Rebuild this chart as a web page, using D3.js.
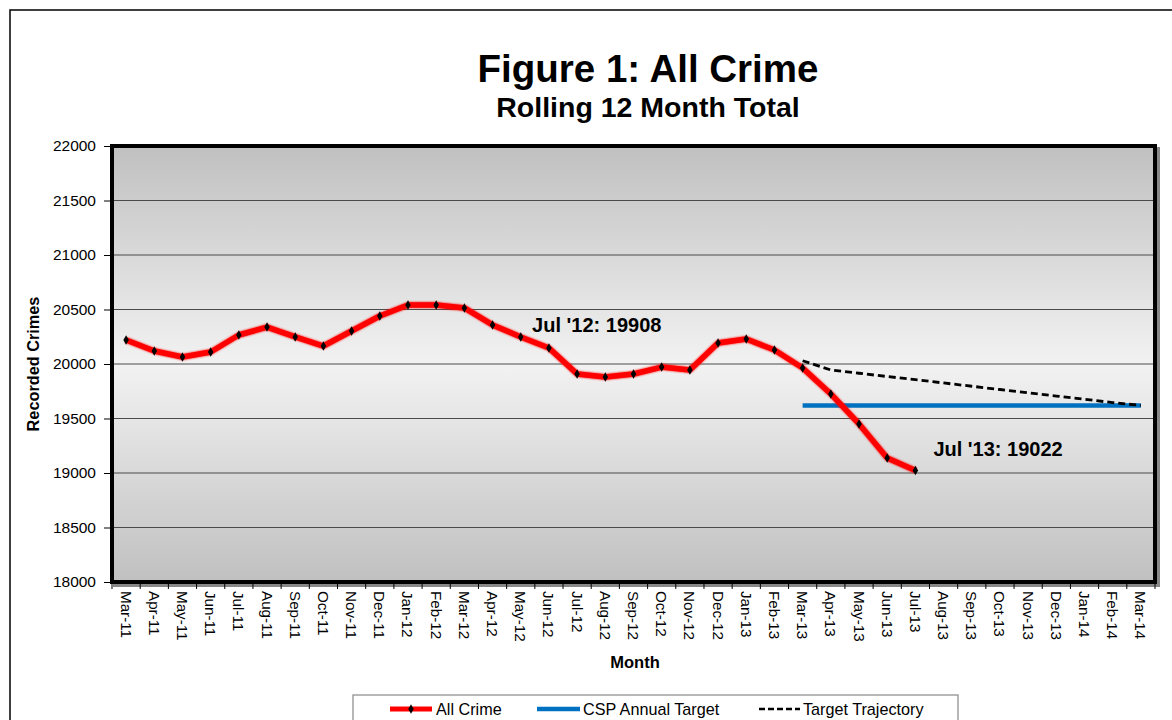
<!DOCTYPE html>
<html>
<head>
<meta charset="utf-8">
<script src="https://cdn.jsdelivr.net/npm/d3@7"></script>
<style>
  html, body { margin: 0; padding: 0; background: #fff; }
  svg { display: block; font-family: "Liberation Sans", Arial, sans-serif; }
</style>
</head>
<body>
<svg id="chart" width="1172" height="720"></svg>
<script>
const months = ["Mar-11","Apr-11","May-11","Jun-11","Jul-11","Aug-11","Sep-11","Oct-11","Nov-11","Dec-11",
  "Jan-12","Feb-12","Mar-12","Apr-12","May-12","Jun-12","Jul-12","Aug-12","Sep-12","Oct-12","Nov-12","Dec-12",
  "Jan-13","Feb-13","Mar-13","Apr-13","May-13","Jun-13","Jul-13","Aug-13","Sep-13","Oct-13","Nov-13","Dec-13",
  "Jan-14","Feb-14","Mar-14"];
const allCrime = [20220,20119,20064,20110,20266,20339,20248,20165,20303,20440,
  20541,20541,20514,20358,20248,20147,19908,19881,19908,19972,19945,20193,
  20229,20128,19963,19725,19450,19138,19022];
const targetMonths = ["Mar-13","Apr-13","May-13","Jun-13","Jul-13","Aug-13","Sep-13","Oct-13","Nov-13","Dec-13","Jan-14","Feb-14","Mar-14"];
const cspTarget = [19620,19620,19620,19620,19620,19620,19620,19620,19620,19620,19620,19620,19620];
const trajectory = [20030,19945,19915,19885,19856,19826,19796,19766,19736,19706,19676,19646,19620];
const yTicks = [18000,18500,19000,19500,20000,20500,21000,21500,22000];
const annotations = [{label:"Jul '12: 19908", month:"Jul-12", value:19908, dx:-45, dy:-42},
                     {label:"Jul '13: 19022", month:"Jul-13", value:19022, dx:18, dy:-15}];

const svg = d3.select("#chart");
const L = 112, R = 1155, T = 146, B = 582;

const x = d3.scaleBand().domain(months).range([L, R]);
const cx = m => x(m) + x.bandwidth()/2;
const y = d3.scaleLinear().domain([18000, 22000]).range([B, T]);

// outer chart border
svg.append("rect").attr("x",10).attr("y",10).attr("width",1300).attr("height",900)
  .attr("fill","#fff").attr("stroke","#000").attr("stroke-width",1.5);

// titles
svg.append("text").attr("x",648).attr("y",82).attr("text-anchor","middle")
  .attr("font-size",38.5).attr("font-weight","bold").text("Figure 1: All Crime");
svg.append("text").attr("x",648).attr("y",117).attr("text-anchor","middle")
  .attr("font-size",28.5).attr("font-weight","bold").text("Rolling 12 Month Total");

// plot background gradient
const defs = svg.append("defs");
const grad = defs.append("linearGradient").attr("id","bg").attr("x1",0).attr("y1",0).attr("x2",0).attr("y2",1);
grad.append("stop").attr("offset","0%").attr("stop-color","#c0c0c0");
grad.append("stop").attr("offset","50%").attr("stop-color","#f2f2f2");
grad.append("stop").attr("offset","100%").attr("stop-color","#c0c0c0");
const glow = defs.append("filter").attr("id","glow").attr("x","-5%").attr("y","-20%").attr("width","110%").attr("height","140%");
glow.append("feGaussianBlur").attr("in","SourceGraphic").attr("stdDeviation",1.2).attr("result","b");
const fm = glow.append("feMerge");
fm.append("feMergeNode").attr("in","b");
fm.append("feMergeNode").attr("in","SourceGraphic");

// frame shadow
svg.append("rect").attr("x",L+3).attr("y",T+3).attr("width",R-L).attr("height",B-T)
  .attr("fill","none").attr("stroke","#888").attr("stroke-width",4);
svg.append("rect").attr("x",L).attr("y",T).attr("width",R-L).attr("height",B-T).attr("fill","url(#bg)");

// gridlines
svg.append("g").selectAll("line").data(yTicks.filter(v => v > 18000 && v < 22000)).join("line")
  .attr("x1",L).attr("x2",R).attr("y1",d=>y(d)).attr("y2",d=>y(d))
  .attr("stroke","#4a4a4a").attr("stroke-width",1);

// frame
svg.append("rect").attr("x",L).attr("y",T).attr("width",R-L).attr("height",B-T)
  .attr("fill","none").attr("stroke","#000").attr("stroke-width",4);

// y axis
const yAxis = d3.axisLeft(y).tickValues(yTicks).tickSize(6).tickPadding(8).tickFormat(d3.format("d"));
const yg = svg.append("g").attr("transform",`translate(${L-2},0)`).call(yAxis);
yg.select(".domain").remove();
yg.selectAll("text").attr("font-size",15.5).attr("fill","#000").attr("font-family","Liberation Sans, Arial, sans-serif");
yg.selectAll("line").attr("stroke","#000");

// x axis
const xg = svg.append("g").attr("transform",`translate(0,${B+2})`);
const bounds = months.map(m => x(m)).concat([R]);
xg.selectAll("line").data(bounds).join("line")
  .attr("x1",d=>d).attr("x2",d=>d).attr("y1",0).attr("y2",5).attr("stroke","#000");
xg.selectAll("text").data(months).join("text")
  .attr("transform", d => `translate(${cx(d)-5.5},7) rotate(90)`)
  .attr("font-size",15.2).attr("fill","#000").attr("text-anchor","start")
  .text(d => d);

// axis titles
svg.append("text").attr("x",635).attr("y",668).attr("text-anchor","middle")
  .attr("font-size",16.5).attr("font-weight","bold").text("Month");
svg.append("text").attr("transform",`translate(39,${(T+B)/2}) rotate(-90)`).attr("text-anchor","middle")
  .attr("font-size",16.3).attr("font-weight","bold").text("Recorded Crimes");

// series
const line = d3.line().x(d => cx(d.m)).y(d => y(d.v));
const tData = targetMonths.map((m,i) => ({m, v: cspTarget[i]}));
const trData = targetMonths.map((m,i) => ({m, v: trajectory[i]}));
const acData = allCrime.map((v,i) => ({m: months[i], v}));

svg.append("path").datum(tData).attr("d",line).attr("fill","none")
  .attr("stroke","#0070c0").attr("stroke-width",4.5);
svg.append("path").datum(trData).attr("d",line).attr("fill","none")
  .attr("stroke","#000").attr("stroke-width",2.8).attr("stroke-dasharray","7,4");
svg.append("path").datum(acData).attr("d",line).attr("fill","none")
  .attr("stroke","#ff0000").attr("stroke-width",5.5).attr("stroke-linejoin","round")
  .attr("filter","url(#glow)");
const diamond = d3.symbol().type(d3.symbolDiamond).size(26);
svg.append("g").selectAll("path").data(acData).join("path")
  .attr("transform", d => `translate(${cx(d.m)},${y(d.v)})`).attr("d",diamond).attr("fill","#000");

// annotations
svg.append("g").selectAll("text").data(annotations).join("text")
  .attr("x", d => cx(d.month) + d.dx).attr("y", d => y(d.value) + d.dy)
  .attr("font-size",20).attr("font-weight","bold").text(d => d.label);

// legend
const lg = svg.append("g");
lg.append("rect").attr("x",353).attr("y",695).attr("width",605).attr("height",40)
  .attr("fill","#fff").attr("stroke","#888").attr("stroke-width",1.2);
const ly = 709;
lg.append("line").attr("x1",390).attr("x2",432).attr("y1",ly).attr("y2",ly).attr("stroke","#ff0000").attr("stroke-width",5);
lg.append("path").attr("transform",`translate(411,${ly})`).attr("d",diamond).attr("fill","#000");
lg.append("text").attr("x",436).attr("y",ly+6).attr("font-size",16.2).text("All Crime");
lg.append("line").attr("x1",537).attr("x2",580).attr("y1",ly).attr("y2",ly).attr("stroke","#0070c0").attr("stroke-width",4.5);
lg.append("text").attr("x",583).attr("y",ly+6).attr("font-size",16.2).text("CSP Annual Target");
lg.append("line").attr("x1",759).attr("x2",800).attr("y1",ly).attr("y2",ly).attr("stroke","#000").attr("stroke-width",2.5).attr("stroke-dasharray","6,3");
lg.append("text").attr("x",803).attr("y",ly+6).attr("font-size",16.2).text("Target Trajectory");
</script>
</body>
</html>
